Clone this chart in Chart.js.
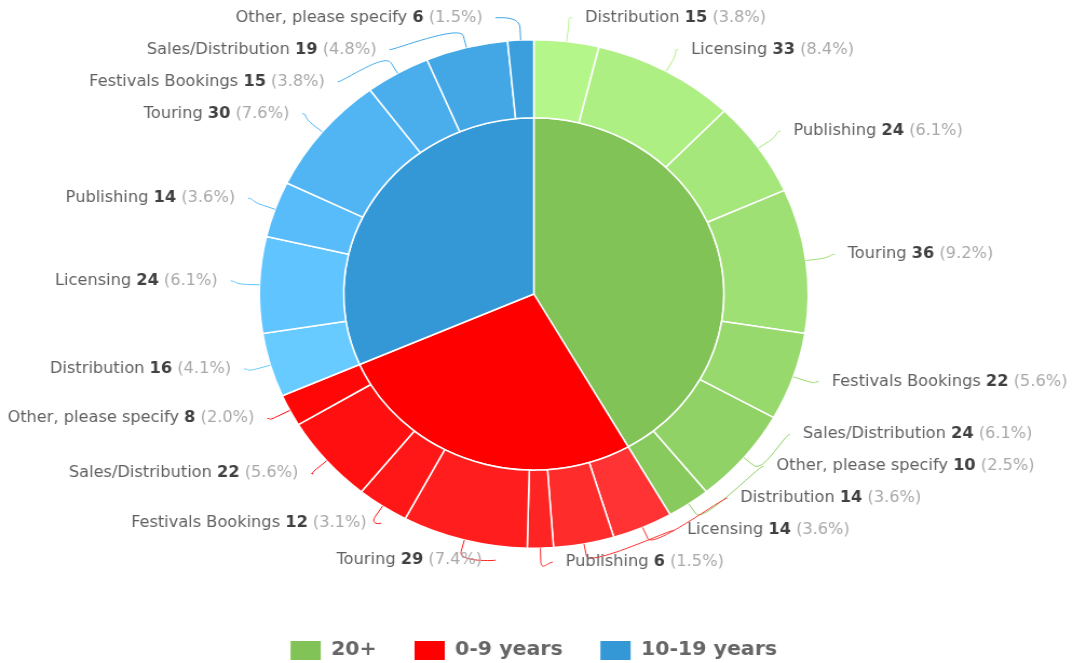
<!DOCTYPE html>
<html>
<head>
<meta charset="utf-8">
<script src="https://cdn.jsdelivr.net/npm/chart.js@4.4.1/dist/chart.umd.min.js"></script>
<style>
  html, body { margin: 0; padding: 0; overflow: hidden; background: #fff; }
  /* the reference is stretched a little horizontally, so the canvas is too */
  #wrap { position: absolute; left: 0; top: 0; width: 994px; height: 670px; transform: scaleX(1.0795); transform-origin: 0 0; }
</style>
</head>
<body>
<div id="wrap"><canvas id="chart" width="994" height="670"></canvas></div>
<script>
const groups = ['20+', '0-9 years', '10-19 years'];
const categories = ['Distribution', 'Licensing', 'Publishing', 'Touring', 'Festivals Bookings', 'Sales/Distribution', 'Other, please specify'];
const values20plus = [15, 33, 24, 36, 22, 24, 10];
const values0to9 = [14, 14, 6, 29, 12, 22, 8];
const values10to19 = [16, 24, 14, 30, 15, 19, 6];

const groupColors = ['#82c358', '#ff0000', '#3498d6'];

const sum = arr => arr.reduce((a, b) => a + b, 0);
const groupValues = [sum(values20plus), sum(values0to9), sum(values10to19)];
const total = sum(groupValues);

// same trick highcharts uses: sub slices get brighter versions of the group colour
function brighten(hex, amount) {
  const n = parseInt(hex.slice(1), 16);
  const add = Math.round(amount * 255);
  const r = Math.min(255, (n >> 16) + add);
  const g = Math.min(255, ((n >> 8) & 255) + add);
  const b = Math.min(255, (n & 255) + add);
  return 'rgb(' + r + ',' + g + ',' + b + ')';
}

const outerValues = [];
const outerNames = [];
const outerColors = [];
[values20plus, values0to9, values10to19].forEach((vals, gi) => {
  vals.forEach((v, j) => {
    outerValues.push(v);
    outerNames.push(categories[j]);
    outerColors.push(brighten(groupColors[gi], 0.2 - (j / vals.length) / 5));
  });
});

const labelFont = '"DejaVu Sans", Verdana, sans-serif';

function spread(list, gap, top, bottom) {
  list.sort((a, b) => a.ty - b.ty);
  let prev = -Infinity;
  list.forEach(it => { it.y = Math.max(it.ty, prev + gap, top); prev = it.y; });
  let next = Infinity;
  for (let k = list.length - 1; k >= 0; k--) {
    list[k].y = Math.min(list[k].y, next - gap, bottom);
    next = list[k].y;
  }
}

const sliceLabels = {
  id: 'sliceLabels',
  afterDatasetsDraw(chart) {
    const ctx = chart.ctx;
    const meta = chart.getDatasetMeta(0);
    const ds = chart.data.datasets[0];
    const items = meta.data.map((arc, i) => {
      const mid = (arc.startAngle + arc.endAngle) / 2;
      const cos = Math.cos(mid), sin = Math.sin(mid);
      return {
        i, cx: arc.x, cy: arc.y, R: arc.outerRadius, cos, sin,
        right: cos >= 0,
        ty: arc.y + (arc.outerRadius + 24) * sin - 3
      };
    });
    const cy = items[0].cy, R = items[0].R;
    const rightSide = items.filter(it => it.right);
    const leftSide = items.filter(it => !it.right);
    spread(rightSide, 32, cy - R - 22, cy + R + 14);
    spread(leftSide, 32, cy - R - 22, cy + R + 14);

    ctx.save();
    items.forEach(it => {
      const dir = it.right ? 1 : -1;
      const dy = it.y - it.cy + 5;
      const h = it.R + 20;
      const ax = 1.05 * Math.sqrt(Math.max(0, h * h - dy * dy)) + 5;
      const textX = it.cx + dir * ax;
      const ex = textX - dir * 12;
      const base = [it.cx + it.cos * it.R, it.cy + it.sin * it.R];
      const brk = [it.cx + it.cos * (it.R + 12), it.cy + it.sin * (it.R + 12)];
      const ext = [it.cx + it.cos * (it.R + 24), it.cy + it.sin * (it.R + 24)];

      ctx.strokeStyle = ds.backgroundColor[it.i];
      ctx.lineWidth = 1;
      ctx.beginPath();
      ctx.moveTo(ex, it.y);
      ctx.bezierCurveTo(ex - dir * 5, it.y, ext[0], ext[1], brk[0], brk[1]);
      ctx.lineTo(base[0], base[1]);
      ctx.stroke();

      const v = ds.data[it.i];
      const parts = [
        { t: outerNames[it.i] + ' ', f: '15px ' + labelFont, c: '#606060' },
        { t: String(v), f: 'bold 15px ' + labelFont, c: '#404040' },
        { t: ' (' + (v / total * 100).toFixed(1) + '%)', f: '15px ' + labelFont, c: '#a8a8a8' }
      ];
      let w = 0;
      parts.forEach(p => { ctx.font = p.f; p.w = ctx.measureText(p.t).width; w += p.w; });
      let x = it.right ? textX : textX - w;
      ctx.textBaseline = 'middle';
      ctx.textAlign = 'left';
      parts.forEach(p => {
        ctx.font = p.f;
        ctx.fillStyle = p.c;
        ctx.fillText(p.t, x, it.y);
        x += p.w;
      });
    });
    ctx.restore();
  }
};

const ctx = document.getElementById('chart').getContext('2d');
new Chart(ctx, {
  type: 'doughnut',
  data: {
    labels: outerNames,
    datasets: [
      {
        data: outerValues,
        backgroundColor: outerColors,
        borderColor: '#ffffff',
        borderWidth: 1.5,
        weight: 78
      },
      {
        data: groupValues,
        backgroundColor: groupColors,
        borderColor: '#ffffff',
        borderWidth: 1.5,
        weight: 176
      }
    ]
  },
  options: {
    responsive: false,
    animation: false,
    cutout: 0,
    hoverOffset: 0,
    layout: { padding: { top: 39, right: 5, left: 0, bottom: 0 } },
    plugins: {
      tooltip: { enabled: false },
      legend: {
        position: 'bottom',
        onClick: () => {},
        title: { display: true, text: '', font: { size: 10, lineHeight: 1 }, padding: { top: 0, bottom: 47 } },
        labels: {
          boxWidth: 28,
          boxHeight: 19,
          padding: 35,
          color: '#333333',
          font: { family: labelFont, size: 19, weight: 'bold' },
          generateLabels: () => groups.map((g, i) => ({
            text: g,
            fillStyle: groupColors[i],
            strokeStyle: groupColors[i],
            lineWidth: 0,
            hidden: false,
            index: i
          }))
        }
      }
    }
  },
  plugins: [sliceLabels]
});
</script>
</body>
</html>
